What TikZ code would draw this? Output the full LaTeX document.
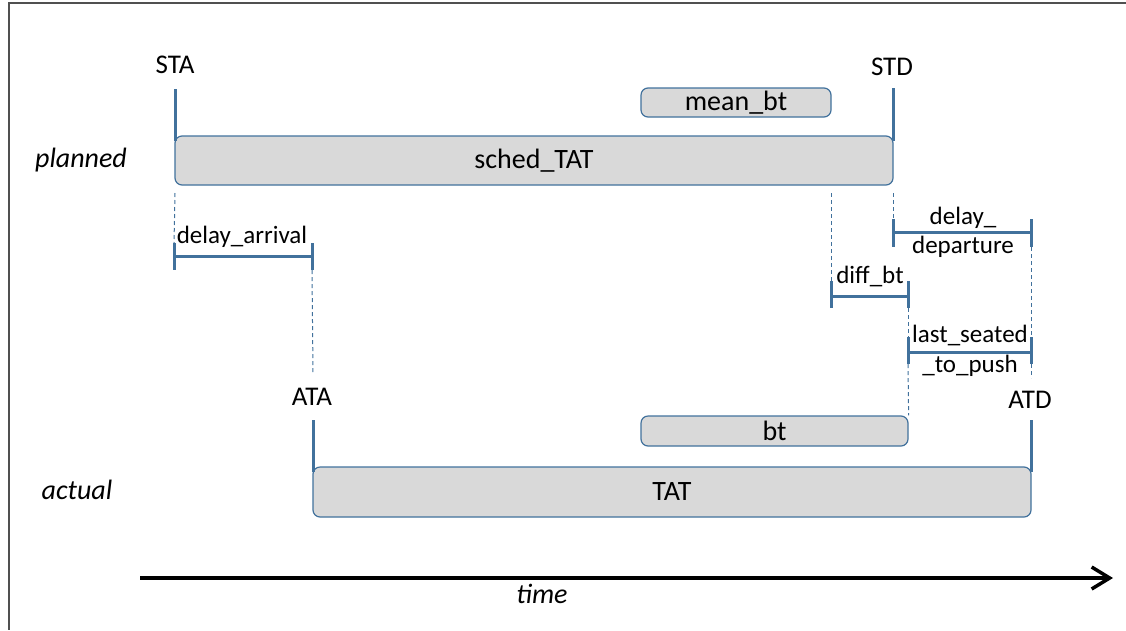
\documentclass[tikz,border=0pt]{standalone}
\usepackage{fontspec}
\setmainfont{Carlito}
\usetikzlibrary{arrows.meta,calc}
\definecolor{lineblue}{RGB}{65,113,156}
\definecolor{boxgray}{RGB}{217,217,217}
\definecolor{framegray}{RGB}{80,80,80}
\begin{document}
\begin{tikzpicture}[x=1pt,y=-1pt,
  every node/.style={font=\fontsize{25}{28}\selectfont, inner sep=0pt},
  box/.style={draw=lineblue, fill=boxgray, rounded corners=7pt, line width=1.2pt, font=\fontsize{28}{30}\selectfont},
  tickline/.style={draw=lineblue, line width=3pt},
  guide/.style={draw=lineblue, line width=1pt, dash pattern=on 4pt off 3pt},
  lbl/.style={anchor=base},
  evlbl/.style={anchor=base, font=\fontsize{27}{30}\selectfont},
  rowlbl/.style={anchor=base, font=\fontsize{28}{30}\selectfont\itshape},
  timearrow/.style={draw=black, line width=4pt, -{Straight Barb[length=18pt,width=22pt,line width=3.5pt]}}
  ]
\useasboundingbox (0,0) rectangle (1126,630);
% frame (cropped screenshot edges)
\draw[framegray, line width=1.5pt] (1126,3) -- (9,3) -- (9,630);

% boxes
\node[box, minimum width=718pt, minimum height=49pt] (sched) at (534,160.5) {sched\_TAT};
\node[box, minimum width=190pt, minimum height=29pt] (mean) at (736,102.5) {mean\_bt};
\node[box, minimum width=267pt, minimum height=30pt] (bt) at (774.5,431) {bt};
\node[box, minimum width=718pt, minimum height=50pt] (tat) at (672,492) {TAT};

% event labels
\node[evlbl] (sta) at (175,73) {STA};
\node[evlbl] (std) at (892,75) {STD};
\node[evlbl] (ata) at (312,405) {ATA};
\node[evlbl] (atd) at (1030,408) {ATD};

% row labels
\node[rowlbl] (planned) at (81,167) {planned};
\node[rowlbl] (actual) at (77,499) {actual};
\node[rowlbl] (time) at (542,603) {time};

% interval labels
\node[lbl] (ldarr) at (242,243) {delay\_arrival};
\node[lbl] (ldep1) at (963,224) {delay\_};
\node[lbl] (ldep2) at (963,253) {departure};
\node[lbl] (ldiff) at (870,283) {diff\_bt};
\node[lbl] (llast1) at (970,342) {last\_seated};
\node[lbl] (llast2) at (970,372) {\_to\_push};

% event ticks
\coordinate (staT) at (175,89);
\coordinate (staB) at (175,141);
\coordinate (stdT) at (893,88);
\coordinate (stdB) at (893,141);
\coordinate (ataT) at (313,420);
\coordinate (ataB) at (313,472);
\coordinate (atdT) at (1031,420);
\coordinate (atdB) at (1031,472);
\draw[tickline] (staT) -- (staB);
\draw[tickline] (stdT) -- (stdB);
\draw[tickline] (ataT) -- (ataB);
\draw[tickline] (atdT) -- (atdB);

% interval bars
% delay_arrival
\coordinate (da1t) at (174,243); \coordinate (da1b) at (174,270);
\coordinate (da2t) at (312,243); \coordinate (da2b) at (312,270);
\draw[tickline] (da1t) -- (da1b);
\draw[tickline] (da2t) -- (da2b);
\draw[tickline] ($(da1t)!0.5!(da1b)$) -- ($(da2t)!0.5!(da2b)$);
% delay_departure
\coordinate (dd1t) at (893,219); \coordinate (dd1b) at (893,247);
\coordinate (dd2t) at (1031,219); \coordinate (dd2b) at (1031,247);
\draw[tickline] (dd1t) -- (dd1b);
\draw[tickline] (dd2t) -- (dd2b);
\draw[tickline] (893,232) -- (1031,232);
% diff_bt
\coordinate (df1t) at (831,281); \coordinate (df1b) at (831,308);
\coordinate (df2t) at (908,281); \coordinate (df2b) at (908,308);
\draw[tickline] (df1t) -- (df1b);
\draw[tickline] (df2t) -- (df2b);
\draw[tickline] (831,296) -- (908,296);
% last_seated_to_push
\coordinate (ls1t) at (908,337); \coordinate (ls1b) at (908,364);
\coordinate (ls2t) at (1031,337); \coordinate (ls2b) at (1031,364);
\draw[tickline] (ls1t) -- (ls1b);
\draw[tickline] (ls2t) -- (ls2b);
\draw[tickline] (908,352) -- (1031,352);

% dashed guides
\draw[guide] (175,193) -- (da1t);
\draw[guide] (da2b) -- (313,374);
\draw[guide] (831,193) -- (df1t);
\draw[guide] (893,193) -- (dd1t);
\draw[guide] (df2b) -- (ls1t);
\draw[guide] (ls1b) -- (bt.north east);
\draw[guide] (dd2b) -- (ls2t);
\draw[guide] (ls2b) -- (1031,378);

% time arrow
\coordinate (t0) at (140,578);
\coordinate (t1) at (1113,578);
\draw[timearrow] (t0) -- (t1);
\end{tikzpicture}
\end{document}
